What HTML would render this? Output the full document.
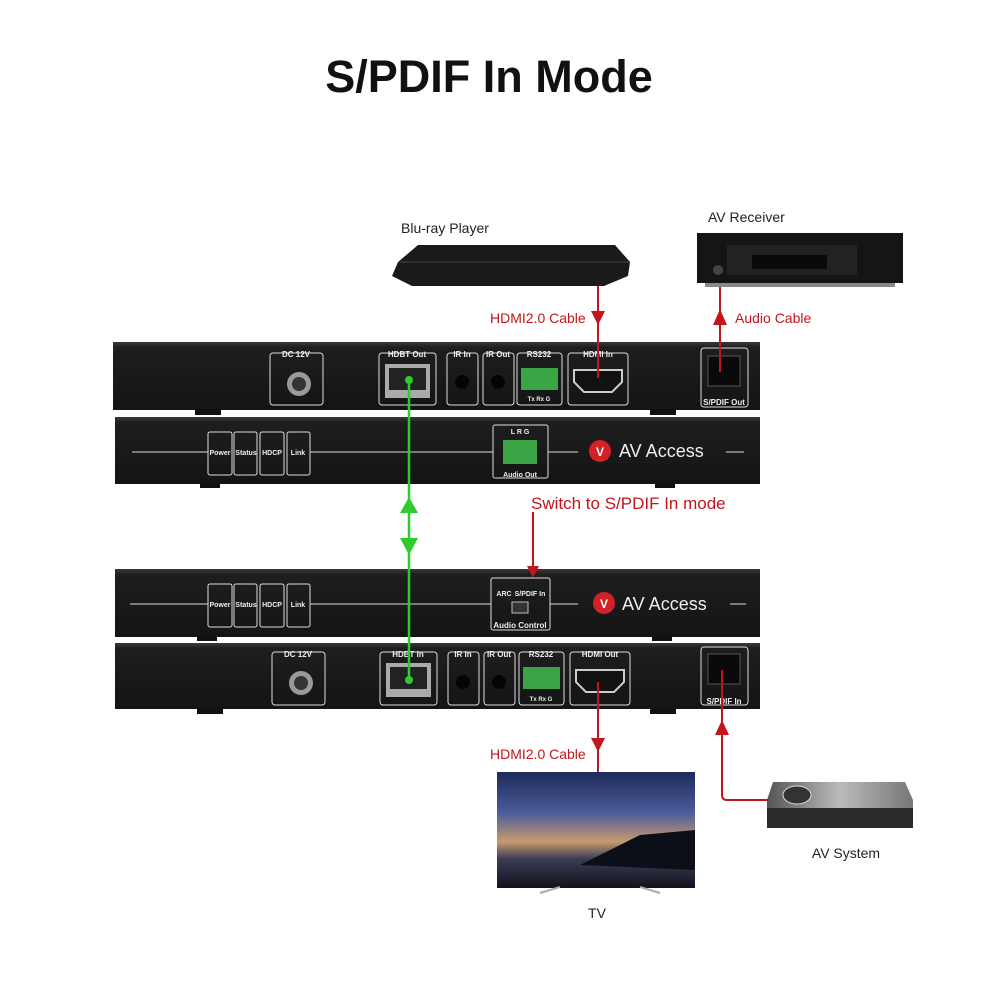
<!DOCTYPE html>
<html><head><meta charset="utf-8"><style>
html,body{margin:0;padding:0;background:#fff;width:1000px;height:1000px;overflow:hidden}
svg{display:block}
text{font-family:"Liberation Sans",sans-serif}
</style></head><body>
<svg width="1000" height="1000" viewBox="0 0 1000 1000" xmlns="http://www.w3.org/2000/svg">
<defs>
<linearGradient id="panel" x1="0" y1="0" x2="0" y2="1"><stop offset="0" stop-color="#3a3a3a"/><stop offset="0.08" stop-color="#1e1e1e"/><stop offset="1" stop-color="#141414"/></linearGradient>
<linearGradient id="tv" x1="0" y1="0" x2="0" y2="1"><stop offset="0" stop-color="#1d2a5a"/><stop offset="0.35" stop-color="#4a5c9a"/><stop offset="0.6" stop-color="#c89a70"/><stop offset="0.75" stop-color="#3a3d55"/><stop offset="1" stop-color="#10121c"/></linearGradient>
<linearGradient id="avs" x1="0" y1="0" x2="1" y2="0"><stop offset="0" stop-color="#555"/><stop offset="0.5" stop-color="#bbb"/><stop offset="1" stop-color="#777"/></linearGradient>
</defs>
<text x="489" y="92" text-anchor="middle" font-size="45" font-weight="bold" fill="#111">S/PDIF In Mode</text>

<!-- Blu-ray -->
<text x="401" y="233" font-size="14" fill="#222">Blu-ray Player</text>
<path d="M398 262 L418 245 L615 245 L630 262 L628 276 L604 286 L412 286 L392 276 Z" fill="#1a1a1a"/>
<path d="M398 262 L630 262" stroke="#444"/>
<!-- AV receiver -->
<text x="708" y="222" font-size="14" fill="#222">AV Receiver</text>
<rect x="697" y="233" width="206" height="50" fill="#151515"/>
<rect x="727" y="245" width="130" height="30" fill="#222"/>
<rect x="752" y="255" width="75" height="14" fill="#0a0a0a"/>
<circle cx="718" cy="270" r="5" fill="#444"/>
<rect x="705" y="283" width="190" height="4" fill="#888"/>

<!-- TX back panel -->
<rect x="113" y="342" width="647" height="68" fill="url(#panel)"/>
<rect x="195" y="409" width="26" height="6" fill="#111"/><rect x="650" y="409" width="26" height="6" fill="#111"/>
<g fill="none" stroke="#ddd" stroke-width="1">
<rect x="270" y="353" width="53" height="52" rx="3"/>
<rect x="379" y="353" width="57" height="52" rx="3"/>
<rect x="447" y="353" width="31" height="52" rx="3"/>
<rect x="483" y="353" width="31" height="52" rx="3"/>
<rect x="517" y="353" width="45" height="52" rx="3"/>
<rect x="568" y="353" width="60" height="52" rx="3"/>
<rect x="701" y="348" width="47" height="59" rx="3"/>
</g>
<g font-size="8" fill="#eee" text-anchor="middle" font-weight="bold">
<text x="296" y="357">DC 12V</text><text x="407" y="357">HDBT Out</text><text x="462" y="357">IR In</text><text x="498" y="357">IR Out</text><text x="539" y="357">RS232</text><text x="598" y="357">HDMI In</text><text x="724" y="405">S/PDIF Out</text>
<text x="539" y="401" font-size="6">Tx Rx G</text>
</g>
<circle cx="299" cy="384" r="12" fill="#999"/><circle cx="299" cy="384" r="7" fill="#333"/>
<rect x="385" y="364" width="45" height="34" fill="#aaa"/><rect x="389" y="368" width="37" height="22" fill="#222"/>
<circle cx="462" cy="382" r="7" fill="#050505"/><circle cx="498" cy="382" r="7" fill="#050505"/>
<rect x="521" y="368" width="37" height="22" fill="#3aa545"/>
<path d="M574 370 L622 370 L622 382 L612 392 L584 392 L574 382 Z" fill="#111" stroke="#ccc" stroke-width="2"/>
<rect x="708" y="356" width="32" height="30" fill="#0a0a0a" stroke="#555"/>

<!-- TX front -->
<rect x="115" y="417" width="645" height="67" fill="url(#panel)"/>
<rect x="200" y="483" width="20" height="5" fill="#111"/><rect x="655" y="483" width="20" height="5" fill="#111"/>
<g stroke="#ddd" fill="none">
<line x1="132" y1="452" x2="208" y2="452"/><line x1="310" y1="452" x2="493" y2="452"/><line x1="548" y1="452" x2="578" y2="452"/><line x1="726" y1="452" x2="744" y2="452"/>
<rect x="208" y="432" width="24" height="43" rx="2"/><rect x="234" y="432" width="23" height="43" rx="2"/><rect x="260" y="432" width="24" height="43" rx="2"/><rect x="287" y="432" width="23" height="43" rx="2"/>
<rect x="493" y="425" width="55" height="53" rx="2"/>
</g>
<g font-size="7" fill="#eee" text-anchor="middle" font-weight="bold">
<text x="220" y="455">Power</text><text x="246" y="455">Status</text><text x="272" y="455">HDCP</text><text x="298" y="455">Link</text>
<text x="520" y="434">L  R  G</text><text x="520" y="477">Audio Out</text>
</g>
<rect x="503" y="440" width="34" height="24" fill="#3aa545"/>
<circle cx="600" cy="451" r="11" fill="#d42027"/><text x="600" y="456" font-size="12" fill="#fff" text-anchor="middle" font-weight="bold">V</text>
<text x="619" y="457" font-size="18" fill="#eee">AV Access</text>

<!-- RX front -->
<rect x="115" y="569" width="645" height="68" fill="url(#panel)"/>
<rect x="197" y="636" width="20" height="5" fill="#111"/><rect x="652" y="636" width="20" height="5" fill="#111"/>
<g stroke="#ddd" fill="none">
<line x1="130" y1="604" x2="208" y2="604"/><line x1="310" y1="604" x2="491" y2="604"/><line x1="550" y1="604" x2="578" y2="604"/><line x1="730" y1="604" x2="746" y2="604"/>
<rect x="208" y="584" width="24" height="43" rx="2"/><rect x="234" y="584" width="23" height="43" rx="2"/><rect x="260" y="584" width="24" height="43" rx="2"/><rect x="287" y="584" width="23" height="43" rx="2"/>
<rect x="491" y="578" width="59" height="52" rx="2"/>
</g>
<g font-size="7" fill="#eee" text-anchor="middle" font-weight="bold">
<text x="504" y="596">ARC</text><text x="530" y="596">S/PDIF In</text><text x="520" y="628" font-size="8">Audio Control</text>
<text x="220" y="607">Power</text><text x="246" y="607">Status</text><text x="272" y="607">HDCP</text><text x="298" y="607">Link</text>
</g>
<rect x="512" y="602" width="16" height="11" fill="#333" stroke="#bbb"/>
<circle cx="604" cy="603" r="11" fill="#d42027"/><text x="604" y="608" font-size="12" fill="#fff" text-anchor="middle" font-weight="bold">V</text>
<text x="622" y="610" font-size="18" fill="#eee">AV Access</text>

<!-- RX back -->
<rect x="115" y="643" width="645" height="66" fill="url(#panel)"/>
<rect x="197" y="708" width="26" height="6" fill="#111"/><rect x="650" y="708" width="26" height="6" fill="#111"/>
<g fill="none" stroke="#ddd">
<rect x="272" y="652" width="53" height="53" rx="3"/>
<rect x="380" y="652" width="57" height="53" rx="3"/>
<rect x="448" y="652" width="31" height="53" rx="3"/>
<rect x="484" y="652" width="31" height="53" rx="3"/>
<rect x="519" y="652" width="45" height="53" rx="3"/>
<rect x="570" y="652" width="60" height="53" rx="3"/>
<rect x="701" y="647" width="47" height="58" rx="3"/>
</g>
<g font-size="8" fill="#eee" text-anchor="middle" font-weight="bold">
<text x="298" y="657">DC 12V</text><text x="408" y="657">HDBT In</text><text x="463" y="657">IR In</text><text x="499" y="657">IR Out</text><text x="541" y="657">RS232</text><text x="600" y="657">HDMI Out</text><text x="724" y="704">S/PDIF In</text>
<text x="541" y="701" font-size="6">Tx Rx G</text>
</g>
<circle cx="301" cy="683" r="12" fill="#999"/><circle cx="301" cy="683" r="7" fill="#333"/>
<rect x="386" y="663" width="45" height="34" fill="#aaa"/><rect x="390" y="667" width="37" height="22" fill="#222"/>
<circle cx="463" cy="682" r="7" fill="#050505"/><circle cx="499" cy="682" r="7" fill="#050505"/>
<rect x="523" y="667" width="37" height="22" fill="#3aa545"/>
<path d="M576 670 L624 670 L624 682 L614 692 L586 692 L576 682 Z" fill="#111" stroke="#ccc" stroke-width="2"/>
<rect x="708" y="654" width="32" height="30" fill="#0a0a0a" stroke="#555"/>

<!-- TV -->
<rect x="497" y="772" width="198" height="116" fill="url(#tv)"/>
<path d="M580 865 L640 835 L695 830 L695 870 Z" fill="#0d0f18"/>
<path d="M540 893 L560 887 M640 887 L660 893" stroke="#aaa" stroke-width="2"/>
<text x="597" y="918" font-size="14" fill="#222" text-anchor="middle">TV</text>
<!-- AV system -->
<path d="M773 782 L905 782 L913 800 L913 828 L767 828 L767 800 Z" fill="url(#avs)"/>
<rect x="767" y="808" width="146" height="20" fill="#2a2a2a"/>
<ellipse cx="797" cy="795" rx="14" ry="9" fill="#333" stroke="#ddd"/>
<text x="846" y="858" font-size="14" fill="#222" text-anchor="middle">AV System</text>

<!-- connectors (on top) -->
<text x="490" y="323" font-size="14" fill="#c0161c">HDMI2.0 Cable</text>
<line x1="598" y1="286" x2="598" y2="378" stroke="#c0161c" stroke-width="2"/>
<path d="M591 311 L605 311 L598 325 Z" fill="#c0161c"/>
<text x="735" y="323" font-size="14" fill="#c0161c">Audio Cable</text>
<line x1="720" y1="287" x2="720" y2="372" stroke="#c0161c" stroke-width="2"/>
<path d="M713 325 L727 325 L720 309 Z" fill="#c0161c"/>

<line x1="409" y1="380" x2="409" y2="680" stroke="#2ecc2e" stroke-width="2.5"/>
<circle cx="409" cy="380" r="4" fill="#2ecc2e"/><circle cx="409" cy="680" r="4" fill="#2ecc2e"/>
<path d="M400 513 L418 513 L409 497 Z" fill="#2ecc2e"/>
<path d="M400 538 L418 538 L409 555 Z" fill="#2ecc2e"/>
<text x="531" y="509" font-size="17" fill="#c0161c">Switch to S/PDIF In mode</text>
<line x1="533" y1="512" x2="533" y2="576" stroke="#c0161c" stroke-width="2"/>
<path d="M527 566 L539 566 L533 578 Z" fill="#c0161c"/>

<line x1="598" y1="682" x2="598" y2="772" stroke="#c0161c" stroke-width="2"/>
<path d="M591 738 L605 738 L598 752 Z" fill="#c0161c"/>
<text x="490" y="759" font-size="14" fill="#c0161c">HDMI2.0 Cable</text>
<path d="M722 670 L722 795 Q722 800 727 800 L768 800" stroke="#c0161c" stroke-width="2" fill="none"/>
<path d="M715 735 L729 735 L722 720 Z" fill="#c0161c"/>
</svg>
</body></html>
